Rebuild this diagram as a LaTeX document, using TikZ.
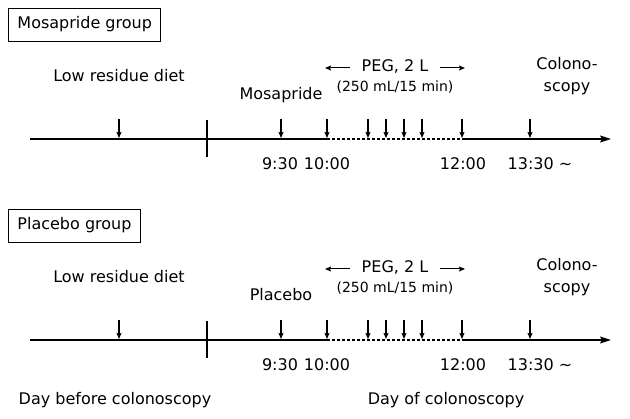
\documentclass[tikz,border=0pt]{standalone}
\usepackage{fontspec}
\setmainfont{DejaVu Sans}
\usetikzlibrary{arrows.meta}
\tikzset{
  grouplabel/.style={draw, line width=0.9pt, anchor=base west, inner xsep=9pt, inner ysep=7pt,
    text height=14pt, text depth=5pt, font=\fontsize{16}{18}\selectfont},
  txt/.style={anchor=base, inner sep=0pt, font=\fontsize{16}{18}\selectfont},
  smalltxt/.style={anchor=base, inner sep=0pt, font=\fontsize{14}{16}\selectfont},
  axis/.style={line width=1.1pt},
  axisend/.style={line width=1.1pt, -{Stealth[length=11pt,width=7pt,inset=2pt]}},
  dashaxis/.style={line width=1.1pt, dash pattern=on 3pt off 2pt},
  tick/.style={line width=1.1pt, -{Stealth[length=6pt,width=5pt,inset=1pt]}},
  pegarrow/.style={line width=1pt, -{Stealth[length=6pt,width=5pt,inset=1pt]}},
}
\begin{document}
\begin{tikzpicture}[x=1pt, y=-1pt]
  \useasboundingbox (0,0) rectangle (630,419);
  % zwei Gruppen, zweite um 201 nach unten versetzt
  \foreach \g/\oy/\grp/\drug in {m/0/Mosapride group/Mosapride, p/201/Placebo group/Placebo}{
    \node[grouplabel] (\g-box) at (8,29+\oy) {\grp};
    \node[txt] (\g-diet) at (119,82+\oy) {Low residue diet};
    \node[txt] (\g-drug) at (281,100+\oy) {\drug};
    % PEG mit Pfeilen
    \node[txt] (\g-peg) at (395,72+\oy) {PEG, 2 L};
    \node[smalltxt] (\g-rate) at (395,92+\oy) {(250 mL/15 min)};
    \coordinate (\g-pl1) at (350,68+\oy);
    \coordinate (\g-pl0) at (325,68+\oy);
    \coordinate (\g-pr0) at (440,68+\oy);
    \coordinate (\g-pr1) at (465,68+\oy);
    \draw[pegarrow] (\g-pl1) -- (\g-pl0);
    \draw[pegarrow] (\g-pr0) -- (\g-pr1);
    \node[txt] (\g-colo) at (567,70+\oy) {Colono-};
    \node[txt] (\g-scopy) at (567,92+\oy) {scopy};
    % Zeitachse
    \coordinate (\g-start) at (30,139+\oy);
    \coordinate (\g-t0) at (327,139+\oy);
    \coordinate (\g-t1) at (462,139+\oy);
    \coordinate (\g-end) at (611,139+\oy);
    \draw[axis] (\g-start) -- (\g-t0);
    \draw[dashaxis] (\g-t0) -- (\g-t1);
    \draw[axisend] (\g-t1) -- (\g-end);
    \coordinate (\g-div0) at (207,120+\oy);
    \coordinate (\g-div1) at (207,157+\oy);
    \draw[axis] (\g-div0) -- (\g-div1);
    \foreach \x/\n in {119/a,281/b,327/c,368/d,386/e,404/f,422/g,462/h,530/i}{
      \coordinate (\g-top-\n) at (\x,119+\oy);
      \coordinate (\g-bot-\n) at (\x,138+\oy);
      \draw[tick] (\g-top-\n) -- (\g-bot-\n);
    }
    % Uhrzeiten
    \node[txt] (\g-h930) at (280,170+\oy) {9:30};
    \node[txt] (\g-h1000) at (327,170+\oy) {10:00};
    \node[txt] (\g-h1200) at (463,170+\oy) {12:00};
    \node[txt] (\g-h1330) at (540,170+\oy) {13:30 \textasciitilde};
  }
  \node[txt] (daybefore) at (115,405) {Day before colonoscopy};
  \node[txt] (dayof) at (446,405) {Day of colonoscopy};
\end{tikzpicture}
\end{document}
